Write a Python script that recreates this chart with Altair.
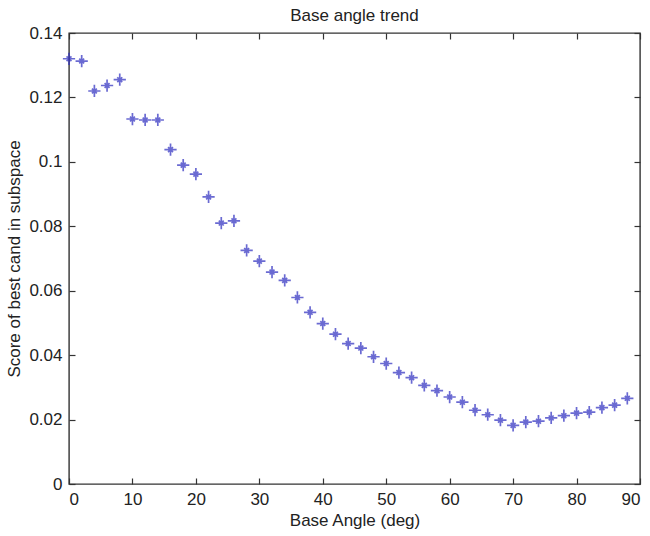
import altair as alt
import pandas as pd

angles = list(range(0, 90, 2))
scores = [0.132, 0.1313, 0.122, 0.1237, 0.1255, 0.1133, 0.113, 0.113, 0.1038, 0.099,
          0.0962, 0.0891, 0.081, 0.0817, 0.0725, 0.0692, 0.0658, 0.0632, 0.0579, 0.0533,
          0.0498, 0.0465, 0.0436, 0.0422, 0.0395, 0.0374, 0.0346, 0.033, 0.0306, 0.029,
          0.027, 0.0254, 0.0229, 0.0215, 0.0198, 0.0182, 0.0192, 0.0195, 0.0205, 0.0212,
          0.022, 0.0223, 0.0237, 0.0245, 0.0266]
x_ticks = [0, 10, 20, 30, 40, 50, 60, 70, 80, 90]
y_ticks = [0, 0.02, 0.04, 0.06, 0.08, 0.1, 0.12, 0.14]

df = pd.DataFrame({"angle": angles, "score": scores})

W, H = 571, 451
FONT = "Liberation Sans"
FS = 17
star = "M-1,0L1,0M0,-1L0,1M-0.4,-0.4L0.4,0.4M-0.4,0.4L0.4,-0.4"

xs = alt.Scale(domain=[0, 90], nice=False, zero=False)
ys = alt.Scale(domain=[0, 0.14], nice=False, zero=False)

base = alt.Chart(df)

main = base.mark_point(shape=star, size=150, strokeWidth=1.7, color="#2c2cc0", filled=False).encode(
    x=alt.X("angle:Q", scale=xs, axis=alt.Axis(
        values=x_ticks, orient="bottom", ticks=False, domain=False, grid=False,
        labelFont=FONT, labelFontSize=FS, labelColor="#222222", labelPadding=7,
        title="Base Angle (deg)", titleFont=FONT, titleFontSize=FS, titleFontWeight="normal",
        titleColor="#222222", titlePadding=5, format="d")),
    y=alt.Y("score:Q", scale=ys, axis=alt.Axis(
        values=y_ticks, orient="left", ticks=False, domain=False, grid=False,
        labelFont=FONT, labelFontSize=FS, labelColor="#222222", labelPadding=7,
        title="Score of best cand in subspace", titleFont=FONT, titleFontSize=FS,
        titleFontWeight="normal", titleColor="#222222", titlePadding=5, format="~g")),
)

# inward ticks at bottom and left
ticks_a = base.mark_point(opacity=0).encode(
    x=alt.X("angle:Q", scale=xs, axis=alt.Axis(
        values=x_ticks, orient="top", offset=-H, labels=False, domain=False, grid=False,
        ticks=True, tickSize=6, tickWidth=1.2, tickColor="#333333", title="")),
    y=alt.Y("score:Q", scale=ys, axis=alt.Axis(
        values=y_ticks, orient="right", offset=-W, labels=False, domain=False, grid=False,
        ticks=True, tickSize=6, tickWidth=1.2, tickColor="#333333", title="")),
)

# inward ticks at top and right
ticks_b = base.mark_point(opacity=0).encode(
    x=alt.X("angle:Q", scale=xs, axis=alt.Axis(
        values=x_ticks, orient="bottom", offset=-H, labels=False, domain=False, grid=False,
        ticks=True, tickSize=6, tickWidth=1.2, tickColor="#333333", title="")),
    y=alt.Y("score:Q", scale=ys, axis=alt.Axis(
        values=y_ticks, orient="left", offset=-W, labels=False, domain=False, grid=False,
        ticks=True, tickSize=6, tickWidth=1.2, tickColor="#333333", title="")),
)

chart = alt.layer(main, ticks_a, ticks_b).resolve_axis(x="independent", y="independent").properties(
    width=W, height=H,
    autosize=alt.AutoSizeParams(type="none"),
    padding={"left": 69, "top": 33, "right": 10, "bottom": 52},
    background="white",
    title=alt.TitleParams("Base angle trend", font=FONT, fontSize=FS, fontWeight="normal",
                          color="#222222", offset=8, dy=9, anchor="middle"),
).configure_view(stroke="#333333", strokeWidth=1.4)

chart.save("out.html", embed_options={"renderer": "svg", "actions": False})
